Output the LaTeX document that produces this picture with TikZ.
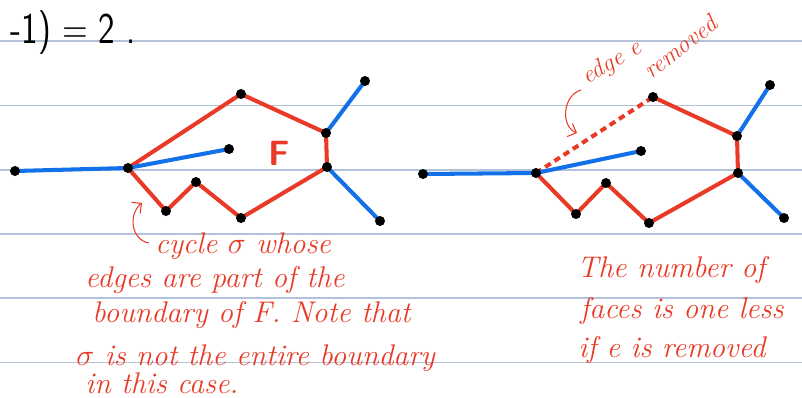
\documentclass[tikz,border=0pt]{standalone}
\usepackage{graphicx}
\usetikzlibrary{arrows.meta}
\definecolor{penred}{RGB}{232,58,38}
\definecolor{penblue}{RGB}{18,112,232}
\definecolor{rulecol}{RGB}{178,194,218}
\tikzstyle{vtx}=[circle,fill=black,inner sep=0pt,minimum size=0.2cm]
\tikzstyle{cyc}=[penred,line width=2.3pt,line cap=round]
\tikzstyle{tree}=[penblue,line width=2.3pt,line cap=round]
\tikzstyle{gone}=[penred,line width=2.3pt,dash pattern=on 0.13cm off 0.09cm]
\tikzstyle{ruled}=[rulecol,line width=0.9pt]
\tikzstyle{note}=[text=penred,font=\fontsize{17}{20}\selectfont\itshape,inner sep=0pt,anchor=base west]
\tikzstyle{tilt}=[text=penred,font=\fontsize{14}{14}\selectfont\itshape,inner sep=0pt,anchor=center]
\tikzstyle{hand}=[-{Straight Barb[length=4pt]},penred,line width=0.6pt]

\begin{document}
\begin{tikzpicture}[x=0.02cm,y=-0.02cm]
\useasboundingbox (0,0) rectangle (802,397);
% notebook lines
\foreach \y in {41,105.5,170,234,298,362.5}
  \draw[ruled] (0,\y) -- (802,\y);
\node[anchor=base east,inner sep=0pt,font=\fontsize{25}{25}\selectfont\sffamily] (res) at (136,43) {\scalebox{0.8}[1]{-1) = 2 .}};

% left graph
\coordinate (La) at (15,171);
\coordinate (Lb) at (128,168);
\coordinate (Lc) at (241,94);
\coordinate (Ld) at (326,133);
\coordinate (Le) at (327,167);
\coordinate (Lf) at (365,81);
\coordinate (Lg) at (380,221);
\coordinate (Lh) at (229,149);
\coordinate (Li) at (166,211);
\coordinate (Lj) at (196,182);
\coordinate (Lk) at (241,218);
\draw[cyc] (Lb) -- (Lc) -- (Ld) -- (Le) -- (Lk) -- (Lj) -- (Li) -- (Lb);
\draw[tree] (La) -- (Lb);
\draw[tree] (Lb) -- (Lh);
\draw[tree] (Ld) -- (Lf);
\draw[tree] (Le) -- (Lg);
\foreach \v in {La,Lb,Lc,Ld,Le,Lf,Lg,Lh,Li,Lj,Lk}
  \node[vtx] at (\v) {};
\node[text=penred,font=\fontsize{20}{20}\selectfont\sffamily\bfseries] (F) at (279,153) {F};

% right graph
\coordinate (Ra) at (423,174);
\coordinate (Rb) at (536,173);
\coordinate (Rc) at (653,97);
\coordinate (Rd) at (737,136);
\coordinate (Re) at (738,173);
\coordinate (Rf) at (770,85);
\coordinate (Rg) at (784,218);
\coordinate (Rh) at (641,151);
\coordinate (Ri) at (576,214);
\coordinate (Rj) at (606,183);
\coordinate (Rk) at (649,223);
\draw[gone] (Rb) -- (Rc);
\draw[cyc] (Rc) -- (Rd) -- (Re) -- (Rk) -- (Rj) -- (Ri) -- (Rb);
\draw[tree] (Ra) -- (Rb);
\draw[tree] (Rb) -- (Rh);
\draw[tree] (Rd) -- (Rf);
\draw[tree] (Re) -- (Rg);
\foreach \v in {Ra,Rb,Rc,Rd,Re,Rf,Rg,Rh,Ri,Rj,Rk}
  \node[vtx] at (\v) {};

% annotations
\node[tilt,rotate=30] (edgee) at (612,63) {edge e};
\node[tilt,rotate=38] (removed) at (680,47) {removed};
\coordinate (rtail) at (581,90);
\coordinate (rtip) at (577,133);
\draw[hand] (rtail) .. controls (563,95) and (560,126) .. (rtip);

\coordinate (ltail) at (149,243);
\coordinate (ltip) at (142,203);
\draw[hand] (ltail) .. controls (131,240) and (128,214) .. (ltip);

\node[note] (c1) at (155,253) {cycle $\sigma$ whose};
\node[note] (c2) at (85,287) {edges are part of the};
\node[note] (c3) at (92,322) {boundary of F. Note that};
\node[note] (c4) at (76,365) {$\sigma$ is not the entire boundary};
\node[note] (c5) at (85,393) {in this case.};

\node[note] (n1) at (577,277) {The number of};
\node[note] (n2) at (580,318) {faces is one less};
\node[note] (n3) at (578,357) {if e is removed};
\end{tikzpicture}
\end{document}
